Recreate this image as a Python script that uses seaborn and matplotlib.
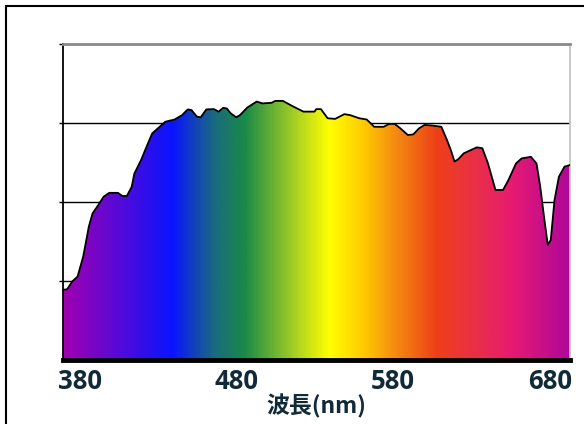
import numpy as np
import seaborn as sns
import matplotlib.pyplot as plt
from matplotlib.colors import LinearSegmentedColormap
from matplotlib.patches import Rectangle

# spectrum (wavelength nm, relative intensity)
wavelength = [369.0, 371.7, 374.8, 378.3, 381.9, 385.5, 387.9, 391.5, 395.0, 398.6,
              404.1, 407.0, 409.8, 412.9, 414.6, 418.9, 422.4, 426.0, 429.6, 434.4,
              440.3, 445.1, 448.7, 451.1, 454.6, 457.0, 460.6, 465.4, 468.5, 471.3,
              473.7, 476.1, 479.7, 482.1, 486.8, 492.8, 496.4, 502.3, 504.7, 509.5,
              515.4, 522.6, 529.7, 530.9, 533.8, 538.1, 542.9, 548.8, 552.4, 558.4,
              563.1, 567.9, 573.9, 577.4, 581.0, 584.6, 589.4, 592.9, 596.5, 600.1,
              604.9, 610.8, 614.4, 616.8, 619.2, 621.5, 625.1, 629.9, 633.5, 637.0,
              640.6, 645.4, 650.2, 653.7, 658.5, 662.1, 668.0, 671.6, 674.0, 676.4,
              678.8, 680.7, 683.1, 685.9, 689.5, 693.0]
intensity = [22.2, 22.4, 24.8, 26.4, 32.7, 42.2, 46.4, 49.0, 51.7, 52.9,
             52.9, 51.9, 51.9, 54.8, 59.0, 63.3, 67.5, 71.7, 73.3, 75.4,
             76.1, 77.5, 79.3, 79.1, 77.0, 76.8, 79.3, 79.4, 78.6, 79.8,
             79.6, 78.1, 76.8, 77.5, 79.9, 81.8, 81.2, 81.4, 82.0, 82.0,
             80.4, 78.6, 78.6, 79.4, 79.4, 76.5, 76.3, 77.8, 77.5, 76.5,
             76.1, 73.8, 73.8, 74.7, 74.7, 73.3, 71.2, 71.4, 73.3, 74.4,
             74.2, 73.8, 69.6, 66.5, 62.8, 63.5, 65.4, 66.5, 67.3, 67.0,
             62.2, 53.8, 53.8, 57.0, 62.2, 63.8, 64.3, 62.2, 54.8, 45.3,
             36.4, 38.0, 50.6, 58.0, 61.2, 61.7]

tick_values = [380, 480, 580, 680]

# rainbow fill colour stops (wavelength, colour)
stop_nm = [369.0, 438.4, 465.3, 485.1, 519.1, 539.5, 562.0, 580.0, 608.0, 640.0, 656.0, 693.0]
stop_colors = ['#a000b0', '#0a14ff', '#1a6a80', '#1a8a48', '#b0d420', '#ffff00',
               '#ffc800', '#f59010', '#ee4018', '#e82a55', '#e81a70', '#b0089a']

xmin, xmax = 369.0, 693.0
text_color = '#112a38'

sns.set_style("white")
fig = plt.figure(figsize=(5.84, 4.24), dpi=100)
ax = fig.add_axes([63 / 584, 64 / 424, 507 / 584, 316 / 424])

sns.lineplot(x=wavelength, y=intensity, color='black', lw=1.3, ax=ax, zorder=3)

# gradient image clipped to the area under the curve
cmap = LinearSegmentedColormap.from_list(
    'spec', [((n - xmin) / (xmax - xmin), c) for n, c in zip(stop_nm, stop_colors)])
grad = np.linspace(0, 1, 600).reshape(1, -1)
im = ax.imshow(grad, cmap=cmap, extent=(xmin, xmax, 0, 100), aspect='auto', zorder=1)
poly = ax.fill_between(wavelength, intensity, 0, color='none')
im.set_clip_path(poly.get_paths()[0], transform=ax.transData)

ax.set_xlim(xmin, xmax)
ax.set_ylim(0, 100)
ax.set_yticks([25, 50, 75, 100])
ax.set_axisbelow(True)
ax.grid(axis='y', color='black', lw=1)
ax.tick_params(axis='y', left=True, length=3, width=1, color='black', labelleft=False)

ax.set_xticks(tick_values)
ax.set_xticklabels([str(v) for v in tick_values], fontsize=18.5, fontweight='bold',
                   color=text_color, family=['Open Sans', 'DejaVu Sans'])
ax.tick_params(axis='x', length=0, pad=6)
ax.set_xlabel('波長(nm)', fontsize=16.5, fontweight='bold', color=text_color,
              family=['Noto Sans CJK JP', 'DejaVu Sans'], labelpad=-1)

ax.spines['left'].set_color('black')
ax.spines['left'].set_linewidth(1.3)
ax.spines['bottom'].set_color('black')
ax.spines['bottom'].set_linewidth(3.5)
ax.spines['top'].set_color('#8a8a8a')
ax.spines['top'].set_linewidth(2)
ax.spines['right'].set_color('#c0c0c0')
ax.spines['right'].set_linewidth(1.2)

# outer chart frame (runs off the right and bottom edges)
fig.patches.append(Rectangle((5.5 / 584, -0.2), 2, 1.2 - 5.5 / 424, transform=fig.transFigure,
                             fill=False, edgecolor='black', lw=1.5))

fig.savefig('out.png', dpi=100)
